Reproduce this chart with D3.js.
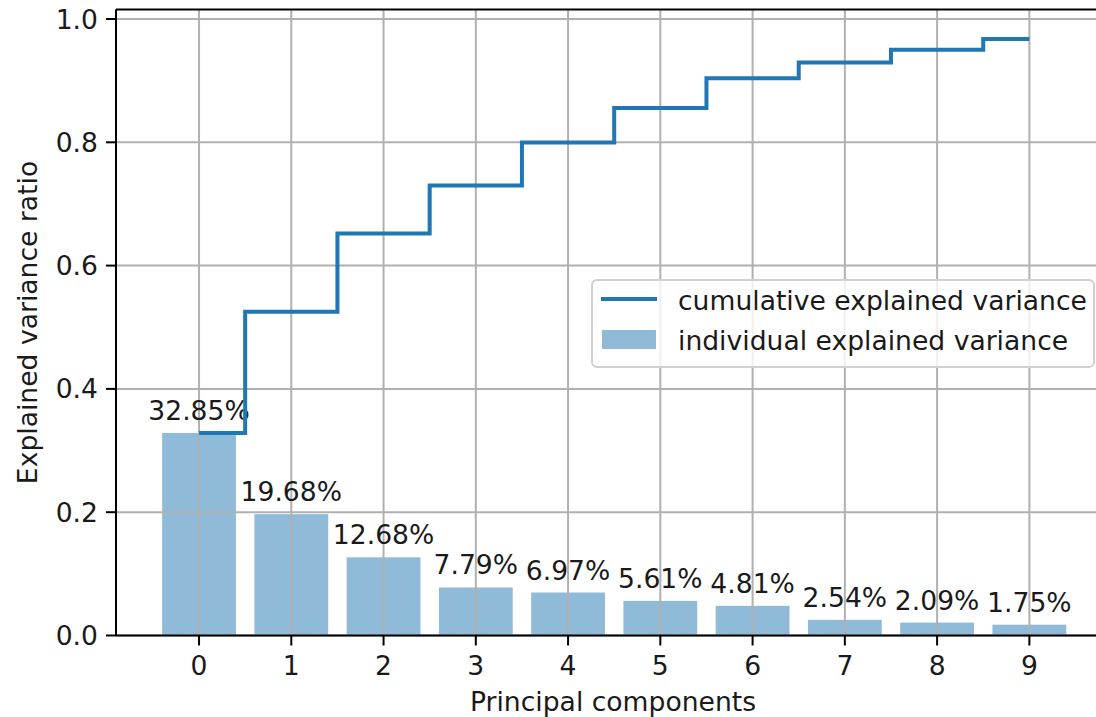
<!DOCTYPE html>
<html lang="en">
<head>
<meta charset="UTF-8">
<title>PCA explained variance</title>
<script src="https://d3js.org/d3.v7.min.js"></script>
<style>
body{margin:0; background:#fff;}
svg text{font-family:"DejaVu Sans", sans-serif; fill:#1a1a1a;}
</style>
</head>
<body>
<div class="chart"></div>
<script>
// data
var components = [0, 1, 2, 3, 4, 5, 6, 7, 8, 9];
var individual = [0.3285, 0.1968, 0.1268, 0.0779, 0.0697, 0.0561, 0.0481, 0.0254, 0.0209, 0.0175];
var barLabels = ["32.85%", "19.68%", "12.68%", "7.79%", "6.97%", "5.61%", "4.81%", "2.54%", "2.09%", "1.75%"];
var cumulative = [0.3285, 0.5253, 0.6521, 0.7300, 0.7997, 0.8558, 0.9039, 0.9293, 0.9502, 0.9677];
var yTicks = [0.0, 0.2, 0.4, 0.6, 0.8, 1.0];
var legendLabels = ["cumulative explained variance", "individual explained variance"];

var W = 1096, H = 717;
var blue = "#1f77b4", barFill = "#8fbbd9", gridCol = "#b0b0b0";
var fs = 26.6;

var svg = d3.select(".chart").append("svg")
	.attr("width", W)
	.attr("height", H);

// x: -0.9 .. 9.9 (right edge falls outside picture)
var x = d3.scaleLinear().domain([-0.9, 9.9]).range([116, 1112.4]);
var y = d3.scaleLinear().domain([0, 1]).range([635.5, 19]);
var yTop = y(1.0155);

// grid
svg.append("g").selectAll("line.vg")
	.data(components).enter().append("line")
	.attr("x1", function(d){ return x(d); })
	.attr("x2", function(d){ return x(d); })
	.attr("y1", y(0)).attr("y2", yTop)
	.attr("stroke", gridCol).attr("stroke-width", 2);
svg.append("g").selectAll("line.hg")
	.data(yTicks).enter().append("line")
	.attr("x1", x(-0.9)).attr("x2", W)
	.attr("y1", function(d){ return y(d); })
	.attr("y2", function(d){ return y(d); })
	.attr("stroke", gridCol).attr("stroke-width", 2);

// bars (grid sits on top of them, like matplotlib)
var bw = x(0.8) - x(0);
svg.insert("g", "g").selectAll("rect")
	.data(individual).enter().append("rect")
	.attr("x", function(d, i){ return x(components[i]) - bw / 2; })
	.attr("y", function(d){ return y(d); })
	.attr("width", bw)
	.attr("height", function(d){ return y(0) - y(d); })
	.attr("fill", barFill);

// bar labels
svg.append("g").selectAll("text")
	.data(individual).enter().append("text")
	.attr("x", function(d, i){ return x(components[i]); })
	.attr("y", function(d){ return y(d) - 13; })
	.attr("text-anchor", "middle")
	.attr("font-size", fs)
	.text(function(d, i){ return barLabels[i]; });

// cumulative step line
var step = d3.line()
	.x(function(d, i){ return x(components[i]); })
	.y(function(d){ return y(d); })
	.curve(d3.curveStep);
svg.append("path")
	.datum(cumulative)
	.attr("d", step)
	.attr("fill", "none")
	.attr("stroke", blue)
	.attr("stroke-width", 4);

// spines
svg.append("line").attr("x1", x(-0.9)).attr("x2", x(-0.9)).attr("y1", yTop).attr("y2", y(0))
	.attr("stroke", "#000").attr("stroke-width", 2);
svg.append("line").attr("x1", x(-0.9)).attr("x2", W).attr("y1", y(0)).attr("y2", y(0))
	.attr("stroke", "#000").attr("stroke-width", 2);
svg.append("line").attr("x1", x(-0.9)).attr("x2", W).attr("y1", yTop).attr("y2", yTop)
	.attr("stroke", "#000").attr("stroke-width", 2);

// y ticks
var yt = svg.append("g").selectAll("g")
	.data(yTicks).enter().append("g");
yt.append("line")
	.attr("x1", x(-0.9) - 10).attr("x2", x(-0.9))
	.attr("y1", function(d){ return y(d); })
	.attr("y2", function(d){ return y(d); })
	.attr("stroke", "#000").attr("stroke-width", 2);
yt.append("text")
	.attr("x", x(-0.9) - 18)
	.attr("y", function(d){ return y(d); })
	.attr("dy", "0.36em")
	.attr("text-anchor", "end")
	.attr("font-size", fs)
	.text(function(d){ return d.toFixed(1); });

// x ticks
var xt = svg.append("g").selectAll("g")
	.data(components).enter().append("g");
xt.append("line")
	.attr("x1", function(d){ return x(d); })
	.attr("x2", function(d){ return x(d); })
	.attr("y1", y(0)).attr("y2", y(0) + 10)
	.attr("stroke", "#000").attr("stroke-width", 2);
xt.append("text")
	.attr("x", function(d){ return x(d); })
	.attr("y", 675)
	.attr("text-anchor", "middle")
	.attr("font-size", fs)
	.text(function(d){ return d; });

// axis titles
svg.append("text")
	.attr("x", 613).attr("y", 711)
	.attr("text-anchor", "middle")
	.attr("font-size", fs)
	.text("Principal components");
svg.append("text")
	.attr("transform", "translate(37," + ((yTop + y(0)) / 2) + ") rotate(-90)")
	.attr("text-anchor", "middle")
	.attr("font-size", fs)
	.text("Explained variance ratio");

// legend
var lg = svg.append("g");
lg.append("rect")
	.attr("x", 592).attr("y", 280)
	.attr("width", 502).attr("height", 87)
	.attr("rx", 5)
	.attr("fill", "rgba(255,255,255,0.8)")
	.attr("stroke", "#d0d0d0").attr("stroke-width", 2);
lg.append("line")
	.attr("x1", 601).attr("x2", 657).attr("y1", 299).attr("y2", 299)
	.attr("stroke", blue).attr("stroke-width", 4);
lg.append("rect")
	.attr("x", 602).attr("y", 330).attr("width", 54).attr("height", 19)
	.attr("fill", barFill);
lg.selectAll("text")
	.data(legendLabels).enter().append("text")
	.attr("x", 678)
	.attr("y", function(d, i){ return 310 + i * 40; })
	.attr("font-size", fs)
	.text(function(d){ return d; });
</script>
</body>
</html>
